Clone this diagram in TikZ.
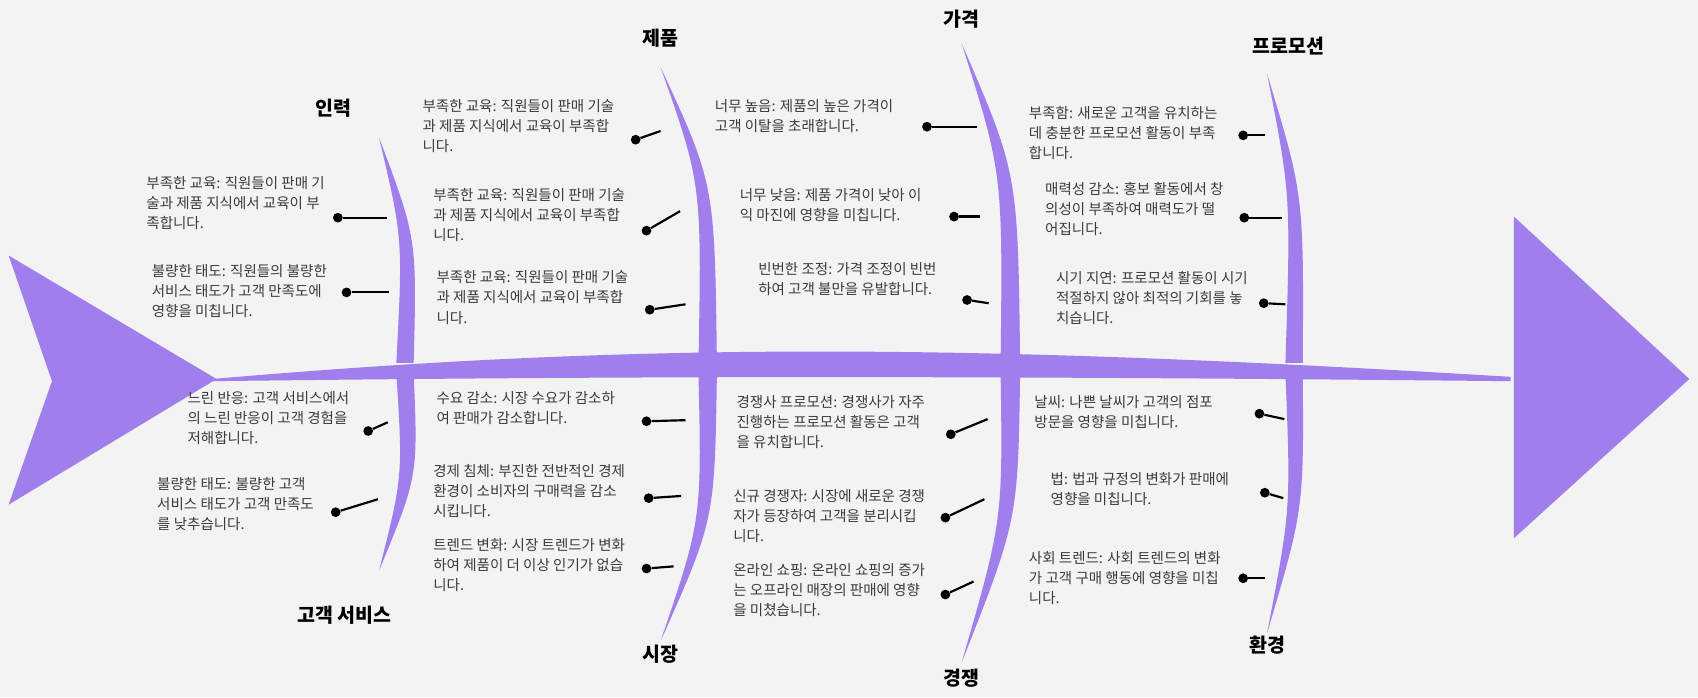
\documentclass[tikz,border=0pt]{standalone}
\usepackage{fontspec}
\setmainfont{Noto Sans CJK KR}
\definecolor{fishc}{HTML}{A07EEC}
\definecolor{bgc}{HTML}{F3F3F3}
\definecolor{txtc}{HTML}{3A3A3A}
\tikzset{
  txt/.style={anchor=north west, align=left, text=txtc, inner sep=0pt,
    font=\fontsize{13.4}{18.5}\selectfont},
  head/.style={text=black, font=\fontsize{18}{20}\selectfont\bfseries},
  twig/.style={line width=2pt, black},
  knob/.style={circle, fill=black, inner sep=0pt, minimum size=9pt}
}
\begin{document}
\begin{tikzpicture}[x=1pt, y=-1pt]
  % background
  \fill[bgc] (0,0) rectangle (1568,644);
  \useasboundingbox (0,0) rectangle (1568,644);

  % tail, spine and head
  \fill[fishc] (8,236) -- (200,350) -- (8,466) -- (48,352) -- cycle;
  \fill[fishc] (196,350) .. controls (600,315) and (900,318) .. (1395,348)
     -- (1395,352) .. controls (900,347) and (600,347) .. (196,352) -- cycle;
  \fill[fishc] (1398,200) -- (1560,350) -- (1398,497) -- cycle;

  % upper bones
  \fill[fishc] (350,127) .. controls (372,220) .. (366,335) -- (382,335) .. controls (385,220) .. (350,127);
  \fill[fishc] (610,62) .. controls (648,170) .. (645,335) -- (662,335) .. controls (660,170) .. (610,62);
  \fill[fishc] (888,40) .. controls (926,160) .. (924,335) -- (942,335) .. controls (940,160) .. (888,40);
  \fill[fishc] (1170,68) .. controls (1192,180) .. (1187,335) -- (1203,335) .. controls (1204,180) .. (1170,68);
  % lower bones
  \fill[fishc] (366,345) .. controls (372,440) .. (350,527) .. controls (386,440) .. (382,345) -- cycle;
  \fill[fishc] (645,345) .. controls (648,480) .. (610,592) .. controls (660,480) .. (662,345) -- cycle;
  \fill[fishc] (924,345) .. controls (926,480) .. (888,612) .. controls (940,480) .. (942,345) -- cycle;
  \fill[fishc] (1187,345) .. controls (1192,470) .. (1170,585) .. controls (1204,470) .. (1203,345) -- cycle;

  % headings
  \node[head] (hin) at (308,100) {인력};
  \node[head] (hje) at (610,35) {제품};
  \node[head] (hga) at (888,18) {가격};
  \node[head] (hpr) at (1190,43) {프로모션};
  \node[head] (hgo) at (318,568) {고객 서비스};
  \node[head] (hsi) at (610,604) {시장};
  \node[head] (hgy) at (888,626) {경쟁};
  \node[head] (hhw) at (1170,596) {환경};

  % twigs: dot, bone point
  \foreach \n/\dx/\dy/\bx/\by in {
      a1/312/201/357/201, a2/320/270/359/270,
      b1/340/398/358/390, b2/310/473/349/461,
      c1/587/129/610/121, c2/597/213/628/195, c3/600/286/633/281,
      d1/597/389/633/388, d2/599/460/629/458, d3/597/525/622/523,
      e1/856/117/902/117, e2/881/200/905/200, e3/893/277/913/280,
      f1/878/401/912/387, f2/873/478/909/461, f3/873/549/899/537,
      g1/1148/125/1168/125, g2/1149/201/1184/201, g3/1167/280/1187/281,
      h1/1163/382/1186/387, h2/1168/455/1185/460, h3/1148/534/1168/534}{
    \node[knob] (k\n) at (\dx,\dy) {};
    \coordinate (p\n) at (\bx,\by);
    \draw[twig] (k\n) -- (p\n);
  }

  % texts
  \node[txt] (ta1) at (135,163) {부족한 교육: 직원들이 판매 기\\술과 제품 지식에서 교육이 부\\족합니다.};
  \node[txt] (ta2) at (140,244) {불량한 태도: 직원들의 불량한\\서비스 태도가 고객 만족도에\\영향을 미칩니다.};
  \node[txt] (tb1) at (173,361) {느린 반응: 고객 서비스에서\\의 느린 반응이 고객 경험을\\저해합니다.};
  \node[txt] (tb2) at (145,441) {불량한 태도: 불량한 고객\\서비스 태도가 고객 만족도\\를 낮추습니다.};
  \node[txt] (tc1) at (390,92) {부족한 교육: 직원들이 판매 기술\\과 제품 지식에서 교육이 부족합\\니다.};
  \node[txt] (tc2) at (400,174) {부족한 교육: 직원들이 판매 기술\\과 제품 지식에서 교육이 부족합\\니다.};
  \node[txt] (tc3) at (403,250) {부족한 교육: 직원들이 판매 기술\\과 제품 지식에서 교육이 부족합\\니다.};
  \node[txt] (td1) at (403,361) {수요 감소: 시장 수요가 감소하\\여 판매가 감소합니다.};
  \node[txt] (td2) at (400,429) {경제 침체: 부진한 전반적인 경제\\환경이 소비자의 구매력을 감소\\시킵니다.};
  \node[txt] (td3) at (400,497) {트렌드 변화: 시장 트렌드가 변화\\하여 제품이 더 이상 인기가 없습\\니다.};
  \node[txt] (te1) at (660,92) {너무 높음: 제품의 높은 가격이\\고객 이탈을 초래합니다.};
  \node[txt] (te2) at (683,174) {너무 낮음: 제품 가격이 낮아 이\\익 마진에 영향을 미칩니다.};
  \node[txt] (te3) at (700,242) {빈번한 조정: 가격 조정이 빈번\\하여 고객 불만을 유발합니다.};
  \node[txt] (tf1) at (680,365) {경쟁사 프로모션: 경쟁사가 자주\\진행하는 프로모션 활동은 고객\\을 유치합니다.};
  \node[txt] (tf2) at (677,452) {신규 경쟁자: 시장에 새로운 경쟁\\자가 등장하여 고객을 분리시킵\\니다.};
  \node[txt] (tf3) at (677,520) {온라인 쇼핑: 온라인 쇼핑의 증가\\는 오프라인 매장의 판매에 영향\\을 미쳤습니다.};
  \node[txt] (tg1) at (950,98) {부족함: 새로운 고객을 유치하는\\데 충분한 프로모션 활동이 부족\\합니다.};
  \node[txt] (tg2) at (965,168) {매력성 감소: 홍보 활동에서 창\\의성이 부족하여 매력도가 떨\\어집니다.};
  \node[txt] (tg3) at (975,250) {시기 지연: 프로모션 활동이 시기\\적절하지 않아 최적의 기회를 놓\\치습니다.};
  \node[txt] (th1) at (955,365) {날씨: 나쁜 날씨가 고객의 점포\\방문을 영향을 미칩니다.};
  \node[txt] (th2) at (970,436) {법: 법과 규정의 변화가 판매에\\영향을 미칩니다.};
  \node[txt] (th3) at (950,509) {사회 트렌드: 사회 트렌드의 변화\\가 고객 구매 행동에 영향을 미칩\\니다.};
\end{tikzpicture}
\end{document}
